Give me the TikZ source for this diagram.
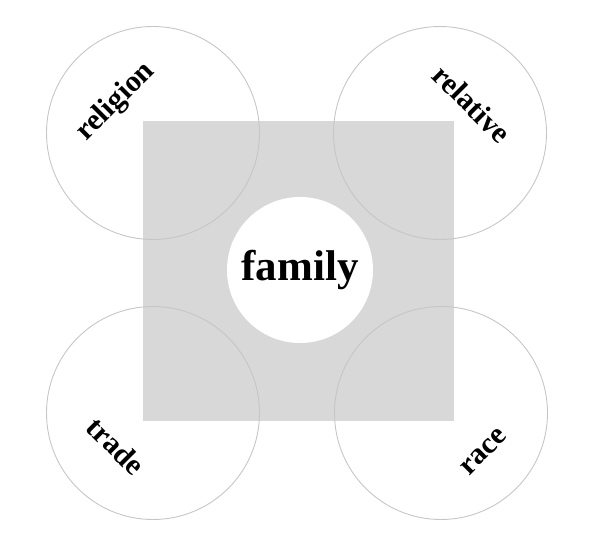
\documentclass[tikz,border=0pt]{standalone}
\usepackage{fontspec}
\setmainfont{Liberation Serif}
\definecolor{BoxGray}{RGB}{216,216,216}
\definecolor{RingGray}{RGB}{198,198,198}
\usepackage{tikz}
\usetikzlibrary{positioning}

\tikzset{
  ring/.style={circle, draw=RingGray, line width=0.9pt, minimum size=213pt, inner sep=0pt},
  word/.style={font=\bfseries\fontsize{30}{30}\selectfont, inner sep=0pt},
}

\begin{document}
\begin{tikzpicture}[x=1pt, y=1pt]
\useasboundingbox (0,0) rectangle (605,539);

% Shaded square
\fill[BoxGray] (143,118) rectangle (454,418);

% Outer circles
\node[ring] (religionring) at (153,406) {};
\node[ring] (relativering) at (440,406) {};
\node[ring] (tradering) at (153,126) {};
\node[ring] (racering) at (441,126) {};

% Centre
\node[circle, fill=white, minimum size=146pt, inner sep=0pt] (familyring) at (300,269) {};
\node[font=\bfseries\fontsize{43}{43}\selectfont, inner sep=0pt] (family) at (familyring) {family};

% Labels
\node[word, rotate=45] (religion) at (116,437) {religion};
\node[word, rotate=-45] (relative) at (472,435) {relative};
\node[word, rotate=-45] (trade) at (116,93) {trade};
\node[word, rotate=45] (race) at (484,87) {race};
\end{tikzpicture}
\end{document}
